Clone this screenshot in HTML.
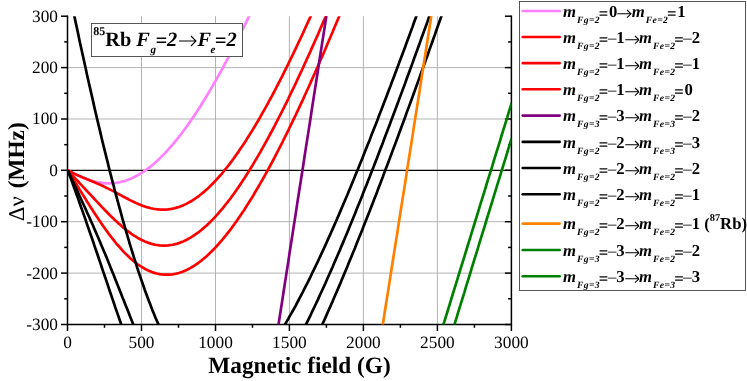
<!DOCTYPE html>
<html><head><meta charset="utf-8"><title>85Rb Fg=2 to Fe=2</title>
<style>
html,body{margin:0;padding:0;background:#fff}
body{width:747px;height:381px;position:relative;overflow:hidden;text-rendering:geometricPrecision;font-family:"Liberation Serif",serif;color:#000}
#w{position:absolute;left:0;top:0;width:747px;height:381px;will-change:transform}
#plot{position:absolute;left:0;top:0}
#plot text{font-family:"Liberation Serif",serif;font-size:17.3px;fill:#000}
.grid line{stroke:#b4b4b4;stroke-width:1}
.ax line,.ax path{stroke:#000;stroke-width:1.5;fill:none}
.cv path{fill:none;stroke-width:2.7;stroke-linejoin:round}
#ttl{position:absolute;left:91px;top:23px;width:152px;height:34px;border:1px solid #555;background:#fff;box-sizing:border-box}
#ttl span.t{position:absolute;left:1.2px;top:3px;font-weight:bold;font-size:20.4px;white-space:nowrap;line-height:26px}
#ttl sup{font-size:12px;vertical-align:baseline;position:relative;top:-11.3px}
#ttl sub{font-size:11px;vertical-align:baseline;position:relative;top:7.3px;font-style:italic;margin:0 -0.5px 0 0.5px}
#ttl sub.e{margin:0 -0.7px 0 -0.5px}
#xl{position:absolute;left:208.3px;top:353px;font-weight:bold;font-size:23.3px;white-space:nowrap;line-height:26px}
#yl{position:absolute;left:3.5px;top:221px;font-weight:bold;font-size:23.3px;white-space:nowrap;line-height:26px;transform-origin:0 0;transform:rotate(-90deg)}
#yl .s{font-weight:normal;font-size:22.5px;margin-right:2.2px}
.row{position:absolute;left:521.5px;height:26px;white-space:nowrap}
.tx{position:absolute;left:41.5px;top:0;font-weight:bold;font-size:16.7px;line-height:26px}
.tx i{font-style:italic}
.tx sub{font-size:9.6px;font-style:italic;vertical-align:baseline;position:relative;top:6.2px;letter-spacing:0.4px;margin-left:1px;margin-right:-0.5px}
.tx sup{font-size:10.4px;vertical-align:baseline;position:relative;top:-8.5px}
.mn{font-weight:normal;margin-left:-1.2px}
.eq{position:relative;top:1.6px;left:-0.8px}
.eq2{position:relative;top:1.4px}
.aw{display:inline-block;position:relative;height:0;vertical-align:baseline}
.aw svg{position:absolute;left:0}
</style></head><body><div id="w">
<svg id="plot" width="747" height="381" viewBox="0 0 747 381">
<defs><clipPath id="cp"><rect x="67.5" y="16.2" width="443.9" height="308.3"/></clipPath></defs>
<g class="grid">
<line x1="141.5" y1="16.2" x2="141.5" y2="324.5"/>
<line x1="215.5" y1="16.2" x2="215.5" y2="324.5"/>
<line x1="289.4" y1="16.2" x2="289.4" y2="324.5"/>
<line x1="363.4" y1="16.2" x2="363.4" y2="324.5"/>
<line x1="437.4" y1="16.2" x2="437.4" y2="324.5"/>
<line x1="67.5" y1="67.6" x2="511.4" y2="67.6"/>
<line x1="67.5" y1="119.0" x2="511.4" y2="119.0"/>
<line x1="67.5" y1="221.7" x2="511.4" y2="221.7"/>
<line x1="67.5" y1="273.1" x2="511.4" y2="273.1"/>
</g>
<g class="ax">
<line x1="67.5" y1="170.3" x2="511.4" y2="170.3" style="stroke-width:1.2"/>
<path d="M67.5,15.45V324.5H511.4V15.45"/>
<line x1="61.0" y1="16.2" x2="67.5" y2="16.2"/>
<line x1="504.9" y1="16.2" x2="511.4" y2="16.2"/>
<line x1="64.2" y1="41.9" x2="67.5" y2="41.9"/>
<line x1="508.1" y1="41.9" x2="511.4" y2="41.9"/>
<line x1="61.0" y1="67.6" x2="67.5" y2="67.6"/>
<line x1="504.9" y1="67.6" x2="511.4" y2="67.6"/>
<line x1="64.2" y1="93.3" x2="67.5" y2="93.3"/>
<line x1="508.1" y1="93.3" x2="511.4" y2="93.3"/>
<line x1="61.0" y1="119.0" x2="67.5" y2="119.0"/>
<line x1="504.9" y1="119.0" x2="511.4" y2="119.0"/>
<line x1="64.2" y1="144.7" x2="67.5" y2="144.7"/>
<line x1="508.1" y1="144.7" x2="511.4" y2="144.7"/>
<line x1="61.0" y1="170.3" x2="67.5" y2="170.3"/>
<line x1="504.9" y1="170.3" x2="511.4" y2="170.3"/>
<line x1="64.2" y1="196.0" x2="67.5" y2="196.0"/>
<line x1="508.1" y1="196.0" x2="511.4" y2="196.0"/>
<line x1="61.0" y1="221.7" x2="67.5" y2="221.7"/>
<line x1="504.9" y1="221.7" x2="511.4" y2="221.7"/>
<line x1="64.2" y1="247.4" x2="67.5" y2="247.4"/>
<line x1="508.1" y1="247.4" x2="511.4" y2="247.4"/>
<line x1="61.0" y1="273.1" x2="67.5" y2="273.1"/>
<line x1="504.9" y1="273.1" x2="511.4" y2="273.1"/>
<line x1="64.2" y1="298.8" x2="67.5" y2="298.8"/>
<line x1="508.1" y1="298.8" x2="511.4" y2="298.8"/>
<line x1="61.0" y1="324.5" x2="67.5" y2="324.5"/>
<line x1="504.9" y1="324.5" x2="511.4" y2="324.5"/>
<line x1="67.5" y1="324.5" x2="67.5" y2="331.0"/>
<line x1="104.5" y1="324.5" x2="104.5" y2="327.8"/>
<line x1="141.5" y1="324.5" x2="141.5" y2="331.0"/>
<line x1="178.5" y1="324.5" x2="178.5" y2="327.8"/>
<line x1="215.5" y1="324.5" x2="215.5" y2="331.0"/>
<line x1="252.5" y1="324.5" x2="252.5" y2="327.8"/>
<line x1="289.4" y1="324.5" x2="289.4" y2="331.0"/>
<line x1="326.4" y1="324.5" x2="326.4" y2="327.8"/>
<line x1="363.4" y1="324.5" x2="363.4" y2="331.0"/>
<line x1="400.4" y1="324.5" x2="400.4" y2="327.8"/>
<line x1="437.4" y1="324.5" x2="437.4" y2="331.0"/>
<line x1="474.4" y1="324.5" x2="474.4" y2="327.8"/>
<line x1="511.4" y1="324.5" x2="511.4" y2="331.0"/>
</g>
<g class="cv" clip-path="url(#cp)"><g transform="translate(0.3,0)">
<path d="M67.5,170.3L69.0,171.1L70.5,171.9L71.9,172.7L73.4,173.4L74.9,174.2L76.4,174.9L77.9,175.6L79.3,176.3L80.8,176.9L82.3,177.5L83.8,178.1L85.3,178.7L86.7,179.3L88.2,179.8L89.7,180.3L91.2,180.7L92.7,181.1L94.1,181.5L95.6,181.9L97.1,182.2L98.6,182.5L100.1,182.7L101.5,182.9L103.0,183.1L104.5,183.2L106.0,183.3L107.5,183.3L108.9,183.3L110.4,183.3L111.9,183.2L113.4,183.1L114.8,183.0L116.3,182.8L117.8,182.5L119.3,182.2L120.8,181.9L122.2,181.5L123.7,181.1L125.2,180.7L126.7,180.2L128.2,179.6L129.6,179.0L131.1,178.4L132.6,177.7L134.1,177.0L135.6,176.3L137.0,175.5L138.5,174.6L140.0,173.7L141.5,172.8L143.0,171.8L144.4,170.8L145.9,169.8L147.4,168.7L148.9,167.6L150.4,166.4L151.8,165.2L153.3,164.0L154.8,162.7L156.3,161.3L157.8,160.0L159.2,158.6L160.7,157.1L162.2,155.7L163.7,154.1L165.2,152.6L166.6,151.0L168.1,149.4L169.6,147.7L171.1,146.0L172.6,144.3L174.0,142.5L175.5,140.7L177.0,138.9L178.5,137.0L180.0,135.1L181.4,133.2L182.9,131.2L184.4,129.2L185.9,127.2L187.4,125.1L188.8,123.0L190.3,120.9L191.8,118.7L193.3,116.6L194.8,114.3L196.2,112.1L197.7,109.8L199.2,107.5L200.7,105.2L202.1,102.8L203.6,100.5L205.1,98.0L206.6,95.6L208.1,93.1L209.5,90.7L211.0,88.1L212.5,85.6L214.0,83.0L215.5,80.4L216.9,77.8L218.4,75.2L219.9,72.5L221.4,69.8L222.9,67.1L224.3,64.4L225.8,61.6L227.3,58.9L228.8,56.1L230.3,53.2L231.7,50.4L233.2,47.5L234.7,44.6L236.2,41.7L237.7,38.8L239.1,35.9L240.6,32.9L242.1,29.9L243.6,26.9L245.1,23.9L246.5,20.8L248.0,17.8L249.5,14.7L251.0,11.6L252.5,8.5L253.9,5.3L255.4,2.2L256.9,-1.0L258.4,-4.2L259.9,-7.4L261.3,-10.6L262.8,-13.8L264.3,-17.1L265.8,-20.3L267.3,-23.6L268.7,-26.9L270.2,-30.2L271.7,-33.5" stroke="#ff80ff"/>
<path d="M67.5,170.3L69.0,171.1L70.5,171.9L71.9,172.6L73.4,173.4L74.9,174.1L76.4,174.8L77.9,175.4L79.3,176.1L80.8,176.7L82.3,177.4L83.8,178.0L85.3,178.6L86.7,179.2L88.2,179.8L89.7,180.4L91.2,181.1L92.7,181.7L94.1,182.3L95.6,182.9L97.1,183.6L98.6,184.2L100.1,184.9L101.5,185.6L103.0,186.2L104.5,186.9L106.0,187.7L107.5,188.4L108.9,189.1L110.4,189.9L111.9,190.6L113.4,191.4L114.8,192.2L116.3,193.0L117.8,193.8L119.3,194.6L120.8,195.4L122.2,196.2L123.7,197.0L125.2,197.8L126.7,198.5L128.2,199.3L129.6,200.1L131.1,200.8L132.6,201.5L134.1,202.2L135.6,202.9L137.0,203.6L138.5,204.2L140.0,204.8L141.5,205.4L143.0,206.0L144.4,206.5L145.9,207.0L147.4,207.4L148.9,207.8L150.4,208.2L151.8,208.5L153.3,208.8L154.8,209.0L156.3,209.3L157.8,209.4L159.2,209.5L160.7,209.6L162.2,209.6L163.7,209.6L165.2,209.6L166.6,209.5L168.1,209.3L169.6,209.1L171.1,208.9L172.6,208.6L174.0,208.3L175.5,207.9L177.0,207.4L178.5,207.0L180.0,206.4L181.4,205.9L182.9,205.3L184.4,204.6L185.9,203.9L187.4,203.1L188.8,202.3L190.3,201.5L191.8,200.6L193.3,199.6L194.8,198.7L196.2,197.6L197.7,196.6L199.2,195.5L200.7,194.3L202.1,193.1L203.6,191.9L205.1,190.6L206.6,189.2L208.1,187.9L209.5,186.5L211.0,185.0L212.5,183.5L214.0,182.0L215.5,180.4L216.9,178.8L218.4,177.2L219.9,175.5L221.4,173.8L222.9,172.0L224.3,170.2L225.8,168.4L227.3,166.5L228.8,164.6L230.3,162.6L231.7,160.7L233.2,158.7L234.7,156.6L236.2,154.5L237.7,152.4L239.1,150.3L240.6,148.1L242.1,145.9L243.6,143.7L245.1,141.4L246.5,139.1L248.0,136.8L249.5,134.4L251.0,132.0L252.5,129.6L253.9,127.2L255.4,124.7L256.9,122.2L258.4,119.7L259.9,117.1L261.3,114.5L262.8,111.9L264.3,109.3L265.8,106.6L267.3,104.0L268.7,101.2L270.2,98.5L271.7,95.8L273.2,93.0L274.7,90.2L276.1,87.3L277.6,84.5L279.1,81.6L280.6,78.7L282.1,75.8L283.5,72.9L285.0,69.9L286.5,66.9L288.0,63.9L289.4,60.9L290.9,57.9L292.4,54.8L293.9,51.7L295.4,48.6L296.8,45.5L298.3,42.4L299.8,39.2L301.3,36.1L302.8,32.9L304.2,29.7L305.7,26.4L307.2,23.2L308.7,19.9L310.2,16.7L311.6,13.4L313.1,10.1L314.6,6.7L316.1,3.4L317.6,0.0L319.0,-3.3L320.5,-6.7L322.0,-10.1L323.5,-13.5L325.0,-17.0L326.4,-20.4L327.9,-23.9L329.4,-27.4L330.9,-30.8L332.4,-34.3" stroke="#ff0000"/>
<path d="M67.5,170.3L69.0,171.9L70.5,173.5L71.9,175.1L73.4,176.7L74.9,178.3L76.4,179.9L77.9,181.5L79.3,183.1L80.8,184.7L82.3,186.3L83.8,187.9L85.3,189.5L86.7,191.1L88.2,192.7L89.7,194.2L91.2,195.8L92.7,197.4L94.1,199.0L95.6,200.6L97.1,202.2L98.6,203.8L100.1,205.3L101.5,206.9L103.0,208.4L104.5,210.0L106.0,211.5L107.5,213.0L108.9,214.5L110.4,216.0L111.9,217.4L113.4,218.8L114.8,220.3L116.3,221.6L117.8,223.0L119.3,224.3L120.8,225.6L122.2,226.9L123.7,228.1L125.2,229.3L126.7,230.5L128.2,231.6L129.6,232.7L131.1,233.8L132.6,234.8L134.1,235.8L135.6,236.7L137.0,237.6L138.5,238.5L140.0,239.3L141.5,240.0L143.0,240.7L144.4,241.4L145.9,242.0L147.4,242.6L148.9,243.1L150.4,243.6L151.8,244.0L153.3,244.4L154.8,244.7L156.3,245.0L157.8,245.2L159.2,245.4L160.7,245.5L162.2,245.6L163.7,245.6L165.2,245.6L166.6,245.5L168.1,245.4L169.6,245.2L171.1,245.0L172.6,244.7L174.0,244.4L175.5,244.0L177.0,243.6L178.5,243.1L180.0,242.6L181.4,242.0L182.9,241.4L184.4,240.7L185.9,240.0L187.4,239.2L188.8,238.4L190.3,237.6L191.8,236.7L193.3,235.7L194.8,234.7L196.2,233.7L197.7,232.6L199.2,231.5L200.7,230.3L202.1,229.1L203.6,227.8L205.1,226.5L206.6,225.2L208.1,223.8L209.5,222.3L211.0,220.9L212.5,219.4L214.0,217.8L215.5,216.2L216.9,214.6L218.4,212.9L219.9,211.2L221.4,209.5L222.9,207.7L224.3,205.9L225.8,204.0L227.3,202.1L228.8,200.2L230.3,198.2L231.7,196.2L233.2,194.2L234.7,192.1L236.2,190.0L237.7,187.9L239.1,185.7L240.6,183.5L242.1,181.3L243.6,179.1L245.1,176.8L246.5,174.5L248.0,172.1L249.5,169.7L251.0,167.3L252.5,164.9L253.9,162.4L255.4,159.9L256.9,157.4L258.4,154.9L259.9,152.3L261.3,149.7L262.8,147.1L264.3,144.4L265.8,141.7L267.3,139.0L268.7,136.3L270.2,133.5L271.7,130.8L273.2,128.0L274.7,125.2L276.1,122.3L277.6,119.4L279.1,116.5L280.6,113.6L282.1,110.7L283.5,107.8L285.0,104.8L286.5,101.8L288.0,98.8L289.4,95.7L290.9,92.7L292.4,89.6L293.9,86.5L295.4,83.4L296.8,80.2L298.3,77.1L299.8,73.9L301.3,70.7L302.8,67.5L304.2,64.3L305.7,61.1L307.2,57.8L308.7,54.5L310.2,51.2L311.6,47.9L313.1,44.6L314.6,41.3L316.1,37.9L317.6,34.6L319.0,31.2L320.5,27.8L322.0,24.4L323.5,20.9L325.0,17.5L326.4,14.0L327.9,10.6L329.4,7.1L330.9,3.6L332.4,0.1L333.8,-3.5L335.3,-7.0L336.8,-10.6L338.3,-14.1L339.8,-17.7L341.2,-21.3L342.7,-24.9L344.2,-28.5L345.7,-32.1" stroke="#ff0000"/>
<path d="M67.5,170.3L69.0,172.8L70.5,175.2L71.9,177.6L73.4,180.0L74.9,182.4L76.4,184.8L77.9,187.2L79.3,189.6L80.8,192.0L82.3,194.4L83.8,196.8L85.3,199.1L86.7,201.5L88.2,203.8L89.7,206.2L91.2,208.5L92.7,210.8L94.1,213.1L95.6,215.3L97.1,217.5L98.6,219.8L100.1,221.9L101.5,224.1L103.0,226.2L104.5,228.3L106.0,230.4L107.5,232.4L108.9,234.4L110.4,236.3L111.9,238.3L113.4,240.1L114.8,242.0L116.3,243.8L117.8,245.5L119.3,247.2L120.8,248.9L122.2,250.5L123.7,252.1L125.2,253.6L126.7,255.1L128.2,256.5L129.6,257.9L131.1,259.2L132.6,260.5L134.1,261.7L135.6,262.8L137.0,264.0L138.5,265.0L140.0,266.0L141.5,267.0L143.0,267.9L144.4,268.7L145.9,269.5L147.4,270.2L148.9,270.9L150.4,271.5L151.8,272.1L153.3,272.6L154.8,273.1L156.3,273.5L157.8,273.8L159.2,274.1L160.7,274.3L162.2,274.5L163.7,274.7L165.2,274.7L166.6,274.7L168.1,274.7L169.6,274.6L171.1,274.5L172.6,274.3L174.0,274.0L175.5,273.7L177.0,273.4L178.5,273.0L180.0,272.5L181.4,272.0L182.9,271.4L184.4,270.8L185.9,270.2L187.4,269.4L188.8,268.7L190.3,267.9L191.8,267.0L193.3,266.1L194.8,265.2L196.2,264.2L197.7,263.1L199.2,262.0L200.7,260.9L202.1,259.7L203.6,258.5L205.1,257.2L206.6,255.9L208.1,254.5L209.5,253.1L211.0,251.7L212.5,250.2L214.0,248.7L215.5,247.1L216.9,245.5L218.4,243.9L219.9,242.2L221.4,240.5L222.9,238.7L224.3,236.9L225.8,235.1L227.3,233.2L228.8,231.3L230.3,229.4L231.7,227.4L233.2,225.4L234.7,223.3L236.2,221.3L237.7,219.1L239.1,217.0L240.6,214.8L242.1,212.6L243.6,210.4L245.1,208.1L246.5,205.8L248.0,203.4L249.5,201.1L251.0,198.7L252.5,196.3L253.9,193.8L255.4,191.3L256.9,188.8L258.4,186.3L259.9,183.7L261.3,181.1L262.8,178.5L264.3,175.9L265.8,173.2L267.3,170.5L268.7,167.8L270.2,165.1L271.7,162.3L273.2,159.5L274.7,156.7L276.1,153.9L277.6,151.0L279.1,148.1L280.6,145.2L282.1,142.3L283.5,139.3L285.0,136.4L286.5,133.4L288.0,130.4L289.4,127.3L290.9,124.3L292.4,121.2L293.9,118.1L295.4,115.0L296.8,111.9L298.3,108.8L299.8,105.6L301.3,102.4L302.8,99.2L304.2,96.0L305.7,92.8L307.2,89.5L308.7,86.2L310.2,82.9L311.6,79.6L313.1,76.3L314.6,73.0L316.1,69.6L317.6,66.3L319.0,62.9L320.5,59.5L322.0,56.1L323.5,52.7L325.0,49.2L326.4,45.8L327.9,42.3L329.4,38.8L330.9,35.3L332.4,31.8L333.8,28.3L335.3,24.8L336.8,21.2L338.3,17.7L339.8,14.1L341.2,10.5L342.7,6.9L344.2,3.3L345.7,-0.3L347.2,-4.0L348.6,-7.6L350.1,-11.3L351.6,-14.9L353.1,-18.6L354.6,-22.3L356.0,-26.0L357.5,-29.7L359.0,-33.4" stroke="#ff0000"/>
<path d="M270.2,375.9L271.7,366.4L273.2,356.8L274.7,347.3L276.1,337.8L277.6,328.3L279.1,318.8L280.6,309.2L282.1,299.7L283.5,290.2L285.0,280.6L286.5,271.1L288.0,261.6L289.4,252.0L290.9,242.5L292.4,233.0L293.9,223.4L295.4,213.9L296.8,204.4L298.3,194.8L299.8,185.3L301.3,175.8L302.8,166.2L304.2,156.7L305.7,147.1L307.2,137.6L308.7,128.1L310.2,118.5L311.6,109.0L313.1,99.4L314.6,89.9L316.1,80.3L317.6,70.8L319.0,61.2L320.5,51.7L322.0,42.1L323.5,32.6L325.0,23.0L326.4,13.5L327.9,3.9L329.4,-5.6L330.9,-15.2L332.4,-24.7L333.8,-34.3" stroke="#800080"/>
<path d="M67.5,-15.4L69.0,-8.3L70.5,-1.1L71.9,6.0L73.4,13.0L74.9,20.1L76.4,27.0L77.9,34.0L79.3,40.9L80.8,47.7L82.3,54.5L83.8,61.3L85.3,68.0L86.7,74.7L88.2,81.3L89.7,87.9L91.2,94.4L92.7,100.9L94.1,107.4L95.6,113.7L97.1,120.1L98.6,126.4L100.1,132.6L101.5,138.7L103.0,144.9L104.5,150.9L106.0,156.9L107.5,162.9L108.9,168.7L110.4,174.6L111.9,180.3L113.4,186.0L114.8,191.7L116.3,197.2L117.8,202.7L119.3,208.2L120.8,213.6L122.2,218.9L123.7,224.1L125.2,229.3L126.7,234.4L128.2,239.4L129.6,244.3L131.1,249.2L132.6,254.0L134.1,258.8L135.6,263.4L137.0,268.0L138.5,272.5L140.0,276.9L141.5,281.3L143.0,285.5L144.4,289.7L145.9,293.8L147.4,297.8L148.9,301.8L150.4,305.6L151.8,309.4L153.3,313.1L154.8,316.7L156.3,320.2L157.8,323.6L159.2,327.0L160.7,330.2L162.2,333.4L163.7,336.4L165.2,339.4L166.6,342.3L168.1,345.2L169.6,347.9L171.1,350.5L172.6,353.1L174.0,355.5L175.5,357.9L177.0,360.2L178.5,362.3L180.0,364.4L181.4,366.5L182.9,368.4L184.4,370.2L185.9,372.0L187.4,373.6L188.8,375.2 M246.5,374.9L248.0,373.5L249.5,372.1L251.0,370.6L252.5,369.1L253.9,367.5L255.4,365.9L256.9,364.2L258.4,362.5L259.9,360.7L261.3,358.9L262.8,357.0L264.3,355.1L265.8,353.2L267.3,351.2L268.7,349.1L270.2,347.0L271.7,344.9L273.2,342.7L274.7,340.5L276.1,338.2L277.6,335.9L279.1,333.6L280.6,331.2L282.1,328.8L283.5,326.4L285.0,323.9L286.5,321.4L288.0,318.8L289.4,316.2L290.9,313.6L292.4,311.0L293.9,308.3L295.4,305.6L296.8,302.8L298.3,300.0L299.8,297.2L301.3,294.4L302.8,291.5L304.2,288.6L305.7,285.7L307.2,282.8L308.7,279.8L310.2,276.8L311.6,273.8L313.1,270.7L314.6,267.6L316.1,264.5L317.6,261.4L319.0,258.3L320.5,255.1L322.0,251.9L323.5,248.7L325.0,245.4L326.4,242.2L327.9,238.9L329.4,235.6L330.9,232.3L332.4,228.9L333.8,225.6L335.3,222.2L336.8,218.8L338.3,215.4L339.8,211.9L341.2,208.5L342.7,205.0L344.2,201.5L345.7,198.0L347.2,194.5L348.6,191.0L350.1,187.4L351.6,183.8L353.1,180.3L354.6,176.6L356.0,173.0L357.5,169.4L359.0,165.8L360.5,162.1L362.0,158.4L363.4,154.7L364.9,151.0L366.4,147.3L367.9,143.6L369.4,139.9L370.8,136.1L372.3,132.3L373.8,128.6L375.3,124.8L376.8,121.0L378.2,117.1L379.7,113.3L381.2,109.5L382.7,105.6L384.1,101.8L385.6,97.9L387.1,94.0L388.6,90.1L390.1,86.2L391.5,82.3L393.0,78.4L394.5,74.5L396.0,70.5L397.5,66.6L398.9,62.6L400.4,58.7L401.9,54.7L403.4,50.7L404.9,46.7L406.3,42.7L407.8,38.7L409.3,34.7L410.8,30.6L412.3,26.6L413.7,22.5L415.2,18.5L416.7,14.4L418.2,10.4L419.7,6.3L421.1,2.2L422.6,-1.9L424.1,-6.0L425.6,-10.1L427.1,-14.2L428.5,-18.3L430.0,-22.5L431.5,-26.6L433.0,-30.7L434.5,-34.9" stroke="#000"/>
<path d="M67.5,170.3L69.0,173.6L70.5,176.8L71.9,180.0L73.4,183.2L74.9,186.4L76.4,189.6L77.9,192.8L79.3,196.0L80.8,199.2L82.3,202.5L83.8,205.7L85.3,209.0L86.7,212.3L88.2,215.5L89.7,218.9L91.2,222.2L92.7,225.5L94.1,228.9L95.6,232.3L97.1,235.7L98.6,239.2L100.1,242.7L101.5,246.2L103.0,249.7L104.5,253.2L106.0,256.8L107.5,260.4L108.9,264.0L110.4,267.7L111.9,271.4L113.4,275.0L114.8,278.7L116.3,282.5L117.8,286.2L119.3,289.9L120.8,293.7L122.2,297.4L123.7,301.1L125.2,304.9L126.7,308.6L128.2,312.3L129.6,316.0L131.1,319.7L132.6,323.4L134.1,327.0L135.6,330.6L137.0,334.2L138.5,337.7L140.0,341.2L141.5,344.7L143.0,348.1L144.4,351.5L145.9,354.8L147.4,358.1L148.9,361.4L150.4,364.5L151.8,367.6L153.3,370.7L154.8,373.7 M277.6,375.7L279.1,373.3L280.6,370.8L282.1,368.4L283.5,365.8L285.0,363.3L286.5,360.7L288.0,358.1L289.4,355.5L290.9,352.8L292.4,350.1L293.9,347.3L295.4,344.6L296.8,341.7L298.3,338.9L299.8,336.1L301.3,333.2L302.8,330.2L304.2,327.3L305.7,324.3L307.2,321.3L308.7,318.3L310.2,315.3L311.6,312.2L313.1,309.1L314.6,306.0L316.1,302.8L317.6,299.6L319.0,296.4L320.5,293.2L322.0,290.0L323.5,286.7L325.0,283.5L326.4,280.2L327.9,276.8L329.4,273.5L330.9,270.1L332.4,266.7L333.8,263.3L335.3,259.9L336.8,256.5L338.3,253.0L339.8,249.6L341.2,246.1L342.7,242.6L344.2,239.0L345.7,235.5L347.2,231.9L348.6,228.4L350.1,224.8L351.6,221.2L353.1,217.6L354.6,213.9L356.0,210.3L357.5,206.6L359.0,202.9L360.5,199.3L362.0,195.5L363.4,191.8L364.9,188.1L366.4,184.4L367.9,180.6L369.4,176.8L370.8,173.0L372.3,169.3L373.8,165.4L375.3,161.6L376.8,157.8L378.2,154.0L379.7,150.1L381.2,146.2L382.7,142.4L384.1,138.5L385.6,134.6L387.1,130.7L388.6,126.8L390.1,122.8L391.5,118.9L393.0,115.0L394.5,111.0L396.0,107.0L397.5,103.1L398.9,99.1L400.4,95.1L401.9,91.1L403.4,87.1L404.9,83.1L406.3,79.0L407.8,75.0L409.3,71.0L410.8,66.9L412.3,62.9L413.7,58.8L415.2,54.7L416.7,50.6L418.2,46.5L419.7,42.4L421.1,38.3L422.6,34.2L424.1,30.1L425.6,26.0L427.1,21.9L428.5,17.7L430.0,13.6L431.5,9.4L433.0,5.3L434.5,1.1L435.9,-3.1L437.4,-7.3L438.9,-11.4L440.4,-15.6L441.9,-19.8L443.3,-24.0L444.8,-28.2L446.3,-32.4" stroke="#000"/>
<path d="M67.5,170.3L69.0,174.4L70.5,178.4L71.9,182.4L73.4,186.5L74.9,190.6L76.4,194.7L77.9,198.9L79.3,203.0L80.8,207.2L82.3,211.4L83.8,215.6L85.3,219.8L86.7,224.1L88.2,228.4L89.7,232.7L91.2,237.0L92.7,241.3L94.1,245.6L95.6,250.0L97.1,254.3L98.6,258.7L100.1,263.1L101.5,267.5L103.0,271.9L104.5,276.3L106.0,280.6L107.5,285.0L108.9,289.4L110.4,293.8L111.9,298.1L113.4,302.5L114.8,306.8L116.3,311.1L117.8,315.4L119.3,319.7L120.8,323.9L122.2,328.1L123.7,332.3L125.2,336.5L126.7,340.6L128.2,344.7L129.6,348.7L131.1,352.7L132.6,356.6L134.1,360.6L135.6,364.4L137.0,368.2L138.5,372.0L140.0,375.7 M298.3,373.6L299.8,370.8L301.3,367.8L302.8,364.9L304.2,362.0L305.7,359.0L307.2,356.0L308.7,352.9L310.2,349.8L311.6,346.8L313.1,343.6L314.6,340.5L316.1,337.3L317.6,334.2L319.0,331.0L320.5,327.7L322.0,324.5L323.5,321.2L325.0,317.9L326.4,314.6L327.9,311.3L329.4,307.9L330.9,304.5L332.4,301.1L333.8,297.7L335.3,294.3L336.8,290.9L338.3,287.4L339.8,283.9L341.2,280.4L342.7,276.9L344.2,273.3L345.7,269.8L347.2,266.2L348.6,262.6L350.1,259.0L351.6,255.4L353.1,251.8L354.6,248.2L356.0,244.5L357.5,240.8L359.0,237.1L360.5,233.4L362.0,229.7L363.4,226.0L364.9,222.2L366.4,218.5L367.9,214.7L369.4,210.9L370.8,207.2L372.3,203.4L373.8,199.5L375.3,195.7L376.8,191.9L378.2,188.0L379.7,184.2L381.2,180.3L382.7,176.4L384.1,172.5L385.6,168.6L387.1,164.7L388.6,160.8L390.1,156.8L391.5,152.9L393.0,148.9L394.5,145.0L396.0,141.0L397.5,137.0L398.9,133.0L400.4,129.0L401.9,125.0L403.4,121.0L404.9,117.0L406.3,112.9L407.8,108.9L409.3,104.9L410.8,100.8L412.3,96.7L413.7,92.7L415.2,88.6L416.7,84.5L418.2,80.4L419.7,76.3L421.1,72.2L422.6,68.1L424.1,63.9L425.6,59.8L427.1,55.7L428.5,51.5L430.0,47.4L431.5,43.2L433.0,39.0L434.5,34.9L435.9,30.7L437.4,26.5L438.9,22.3L440.4,18.1L441.9,13.9L443.3,9.7L444.8,5.5L446.3,1.3L447.8,-2.9L449.3,-7.2L450.7,-11.4L452.2,-15.7L453.7,-19.9L455.2,-24.2L456.7,-28.4L458.1,-32.7" stroke="#000"/>
<path d="M375.3,370.5L376.8,361.1L378.2,351.7L379.7,342.3L381.2,332.9L382.7,323.6L384.1,314.2L385.6,304.8L387.1,295.4L388.6,286.0L390.1,276.6L391.5,267.2L393.0,257.8L394.5,248.4L396.0,239.0L397.5,229.6L398.9,220.2L400.4,210.8L401.9,201.4L403.4,191.9L404.9,182.5L406.3,173.1L407.8,163.7L409.3,154.3L410.8,144.9L412.3,135.4L413.7,126.0L415.2,116.6L416.7,107.1L418.2,97.7L419.7,88.3L421.1,78.9L422.6,69.4L424.1,60.0L425.6,50.5L427.1,41.1L428.5,31.7L430.0,22.2L431.5,12.8L433.0,3.3L434.5,-6.1L435.9,-15.6L437.4,-25.0L438.9,-34.4" stroke="#ff8000"/>
<path d="M438.9,374.2L440.4,369.4L441.9,364.6L443.3,359.8L444.8,354.9L446.3,350.1L447.8,345.3L449.3,340.5L450.7,335.6L452.2,330.8L453.7,326.0L455.2,321.2L456.7,316.4L458.1,311.5L459.6,306.7L461.1,301.9L462.6,297.1L464.1,292.3L465.5,287.4L467.0,282.6L468.5,277.8L470.0,273.0L471.4,268.2L472.9,263.3L474.4,258.5L475.9,253.7L477.4,248.9L478.8,244.1L480.3,239.2L481.8,234.4L483.3,229.6L484.8,224.8L486.2,220.0L487.7,215.2L489.2,210.3L490.7,205.5L492.2,200.7L493.6,195.9L495.1,191.1L496.6,186.2L498.1,181.4L499.6,176.6L501.0,171.8L502.5,167.0L504.0,162.2L505.5,157.3L507.0,152.5L508.4,147.7L509.9,142.9L511.4,138.1" stroke="#008000"/>
<path d="M428.5,371.9L430.0,367.1L431.5,362.3L433.0,357.5L434.5,352.7L435.9,347.9L437.4,343.1L438.9,338.3L440.4,333.5L441.9,328.7L443.3,323.9L444.8,319.1L446.3,314.3L447.8,309.5L449.3,304.7L450.7,299.9L452.2,295.0L453.7,290.2L455.2,285.4L456.7,280.6L458.1,275.8L459.6,271.0L461.1,266.2L462.6,261.4L464.1,256.6L465.5,251.8L467.0,247.0L468.5,242.2L470.0,237.4L471.4,232.6L472.9,227.8L474.4,223.0L475.9,218.2L477.4,213.4L478.8,208.6L480.3,203.7L481.8,198.9L483.3,194.1L484.8,189.3L486.2,184.5L487.7,179.7L489.2,174.9L490.7,170.1L492.2,165.3L493.6,160.5L495.1,155.7L496.6,150.9L498.1,146.1L499.6,141.3L501.0,136.5L502.5,131.7L504.0,126.9L505.5,122.1L507.0,117.3L508.4,112.4L509.9,107.6L511.4,102.8" stroke="#008000"/>
</g></g>
<g>
<text x="58" y="21.6" text-anchor="end">300</text>
<text x="58" y="73.0" text-anchor="end">200</text>
<text x="58" y="124.4" text-anchor="end">100</text>
<text x="58" y="175.8" text-anchor="end">0</text>
<text x="58" y="227.1" text-anchor="end">-100</text>
<text x="58" y="278.5" text-anchor="end">-200</text>
<text x="58" y="329.9" text-anchor="end">-300</text>
<text x="67.5" y="347.8" text-anchor="middle">0</text>
<text x="141.5" y="347.8" text-anchor="middle">500</text>
<text x="215.5" y="347.8" text-anchor="middle">1000</text>
<text x="289.4" y="347.8" text-anchor="middle">1500</text>
<text x="363.4" y="347.8" text-anchor="middle">2000</text>
<text x="437.4" y="347.8" text-anchor="middle">2500</text>
<text x="511.4" y="347.8" text-anchor="middle">3000</text>
</g>
<rect x="519.5" y="1.5" width="226" height="289" fill="#fff" stroke="#444" stroke-width="0.9"/>
<g stroke-width="2.6" stroke-linecap="round">
<line x1="522.7" y1="11.00" x2="559.7" y2="11.00" stroke="#ff80ff"/>
<line x1="522.7" y1="37.00" x2="559.7" y2="37.00" stroke="#ff0000"/>
<line x1="522.7" y1="63.10" x2="559.7" y2="63.10" stroke="#ff0000"/>
<line x1="522.7" y1="89.20" x2="559.7" y2="89.20" stroke="#ff0000"/>
<line x1="522.7" y1="115.60" x2="559.7" y2="115.60" stroke="#800080"/>
<line x1="522.7" y1="141.90" x2="559.7" y2="141.90" stroke="#000"/>
<line x1="522.7" y1="168.00" x2="559.7" y2="168.00" stroke="#000"/>
<line x1="522.7" y1="194.20" x2="559.7" y2="194.20" stroke="#000"/>
<line x1="522.7" y1="223.60" x2="559.7" y2="223.60" stroke="#ff8000"/>
<line x1="522.7" y1="250.00" x2="559.7" y2="250.00" stroke="#008000"/>
<line x1="522.7" y1="276.20" x2="559.7" y2="276.20" stroke="#008000"/>
</g>
</svg>
<div id="ttl"><span class="t"><sup>85</sup>Rb <i>F</i><sub>g</sub><i><span class="eq2">=</span>2</i><span class="aw" style="width:20.2px"><svg width="20.2" height="12.0" viewBox="0 0 20.2 12.0" style="bottom:-1.1px"><path d="M2.1,6.0H18.8M14.0,1.0L19.0,6.0L14.0,11.0" fill="none" stroke="#000" stroke-width="1.10" stroke-linejoin="miter"/></svg></span><i>F</i><sub class="e">e</sub><i><span class="eq2">=</span>2</i></span></div>
<div id="xl">Magnetic field (G)</div>
<div id="yl"><span class="s">Δν</span> (MHz)</div>
<div class="row" style="top:-1.0px"><span class="tx"><i>m</i><sub>Fg=2</sub><span class="eq">=</span>0<span class="aw" style="width:14.4px"><svg width="14.4" height="9.6" viewBox="0 0 14.4 9.6" style="bottom:-1.2px"><path d="M0.3,4.8H13.8M10.0,1.0L14.0,4.8L10.0,8.6" fill="none" stroke="#000" stroke-width="1.05" stroke-linejoin="miter"/></svg></span><i>m</i><sub>Fe=2</sub><span class="eq">=</span>1</span></div>
<div class="row" style="top:25.0px"><span class="tx"><i>m</i><sub>Fg=2</sub><span class="eq">=</span><span class="mn">–</span>1<span class="aw" style="width:14.4px"><svg width="14.4" height="9.6" viewBox="0 0 14.4 9.6" style="bottom:-1.2px"><path d="M0.3,4.8H13.8M10.0,1.0L14.0,4.8L10.0,8.6" fill="none" stroke="#000" stroke-width="1.05" stroke-linejoin="miter"/></svg></span><i>m</i><sub>Fe=2</sub><span class="eq">=</span><span class="mn">–</span>2</span></div>
<div class="row" style="top:51.0px"><span class="tx"><i>m</i><sub>Fg=2</sub><span class="eq">=</span><span class="mn">–</span>1<span class="aw" style="width:14.4px"><svg width="14.4" height="9.6" viewBox="0 0 14.4 9.6" style="bottom:-1.2px"><path d="M0.3,4.8H13.8M10.0,1.0L14.0,4.8L10.0,8.6" fill="none" stroke="#000" stroke-width="1.05" stroke-linejoin="miter"/></svg></span><i>m</i><sub>Fe=2</sub><span class="eq">=</span><span class="mn">–</span>1</span></div>
<div class="row" style="top:77.0px"><span class="tx"><i>m</i><sub>Fg=2</sub><span class="eq">=</span><span class="mn">–</span>1<span class="aw" style="width:14.4px"><svg width="14.4" height="9.6" viewBox="0 0 14.4 9.6" style="bottom:-1.2px"><path d="M0.3,4.8H13.8M10.0,1.0L14.0,4.8L10.0,8.6" fill="none" stroke="#000" stroke-width="1.05" stroke-linejoin="miter"/></svg></span><i>m</i><sub>Fe=2</sub><span class="eq">=</span>0</span></div>
<div class="row" style="top:103.0px"><span class="tx"><i>m</i><sub>Fg=3</sub><span class="eq">=</span><span class="mn">–</span>3<span class="aw" style="width:14.4px"><svg width="14.4" height="9.6" viewBox="0 0 14.4 9.6" style="bottom:-1.2px"><path d="M0.3,4.8H13.8M10.0,1.0L14.0,4.8L10.0,8.6" fill="none" stroke="#000" stroke-width="1.05" stroke-linejoin="miter"/></svg></span><i>m</i><sub>Fe=3</sub><span class="eq">=</span><span class="mn">–</span>2</span></div>
<div class="row" style="top:130.0px"><span class="tx"><i>m</i><sub>Fg=2</sub><span class="eq">=</span><span class="mn">–</span>2<span class="aw" style="width:14.4px"><svg width="14.4" height="9.6" viewBox="0 0 14.4 9.6" style="bottom:-1.2px"><path d="M0.3,4.8H13.8M10.0,1.0L14.0,4.8L10.0,8.6" fill="none" stroke="#000" stroke-width="1.05" stroke-linejoin="miter"/></svg></span><i>m</i><sub>Fe=3</sub><span class="eq">=</span><span class="mn">–</span>3</span></div>
<div class="row" style="top:156.0px"><span class="tx"><i>m</i><sub>Fg=2</sub><span class="eq">=</span><span class="mn">–</span>2<span class="aw" style="width:14.4px"><svg width="14.4" height="9.6" viewBox="0 0 14.4 9.6" style="bottom:-1.2px"><path d="M0.3,4.8H13.8M10.0,1.0L14.0,4.8L10.0,8.6" fill="none" stroke="#000" stroke-width="1.05" stroke-linejoin="miter"/></svg></span><i>m</i><sub>Fe=2</sub><span class="eq">=</span><span class="mn">–</span>2</span></div>
<div class="row" style="top:182.0px"><span class="tx"><i>m</i><sub>Fg=2</sub><span class="eq">=</span><span class="mn">–</span>2<span class="aw" style="width:14.4px"><svg width="14.4" height="9.6" viewBox="0 0 14.4 9.6" style="bottom:-1.2px"><path d="M0.3,4.8H13.8M10.0,1.0L14.0,4.8L10.0,8.6" fill="none" stroke="#000" stroke-width="1.05" stroke-linejoin="miter"/></svg></span><i>m</i><sub>Fe=2</sub><span class="eq">=</span><span class="mn">–</span>1</span></div>
<div class="row" style="top:211.0px"><span class="tx"><i>m</i><sub>Fg=2</sub><span class="eq">=</span><span class="mn">–</span>2<span class="aw" style="width:14.4px"><svg width="14.4" height="9.6" viewBox="0 0 14.4 9.6" style="bottom:-1.2px"><path d="M0.3,4.8H13.8M10.0,1.0L14.0,4.8L10.0,8.6" fill="none" stroke="#000" stroke-width="1.05" stroke-linejoin="miter"/></svg></span><i>m</i><sub>Fe=2</sub><span class="eq">=</span><span class="mn">–</span>1 (<sup>87</sup>Rb)</span></div>
<div class="row" style="top:238.0px"><span class="tx"><i>m</i><sub>Fg=3</sub><span class="eq">=</span><span class="mn">–</span>3<span class="aw" style="width:14.4px"><svg width="14.4" height="9.6" viewBox="0 0 14.4 9.6" style="bottom:-1.2px"><path d="M0.3,4.8H13.8M10.0,1.0L14.0,4.8L10.0,8.6" fill="none" stroke="#000" stroke-width="1.05" stroke-linejoin="miter"/></svg></span><i>m</i><sub>Fe=2</sub><span class="eq">=</span><span class="mn">–</span>2</span></div>
<div class="row" style="top:264.0px"><span class="tx"><i>m</i><sub>Fg=3</sub><span class="eq">=</span><span class="mn">–</span>3<span class="aw" style="width:14.4px"><svg width="14.4" height="9.6" viewBox="0 0 14.4 9.6" style="bottom:-1.2px"><path d="M0.3,4.8H13.8M10.0,1.0L14.0,4.8L10.0,8.6" fill="none" stroke="#000" stroke-width="1.05" stroke-linejoin="miter"/></svg></span><i>m</i><sub>Fe=3</sub><span class="eq">=</span><span class="mn">–</span>3</span></div>
</div></body></html>
